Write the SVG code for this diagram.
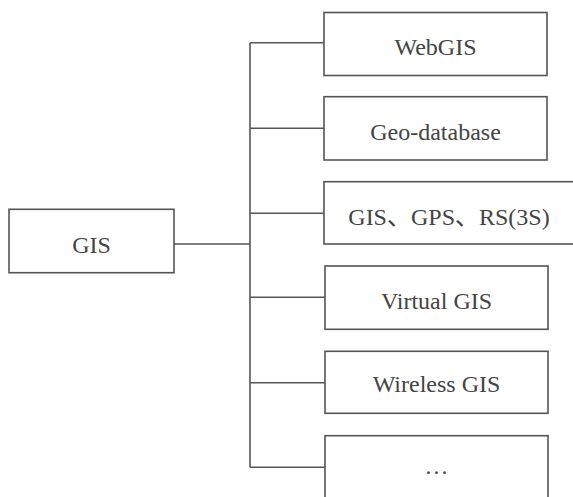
<svg xmlns="http://www.w3.org/2000/svg" width="573" height="497" viewBox="0 0 573 497">
<style>
.box{fill:#fff;stroke:#555;stroke-width:1.6}
.lbl{font-family:"Liberation Serif","Noto Sans CJK SC",serif;font-size:24px;fill:#444;text-anchor:middle}
.conn{fill:none;stroke:#555;stroke-width:1.6}
</style>
<rect width="573" height="497" fill="#fff"/>
<g id="connectors">
<path class="conn" d="M174,244 H250 M250,42.7 V467.3 M250,42.7 H324 M250,128.3 H324 M250,213.3 H324 M250,297.3 H325 M250,382.7 H325 M250,467.3 H325"/>
</g>
<g id="gis"><rect class="box" x="9" y="209.3" width="165" height="63.4"/><text class="lbl" x="91.5" y="252.5">GIS</text></g>
<g id="webgis"><rect class="box" x="324" y="12.5" width="223" height="63"/><text class="lbl" x="435.5" y="55">WebGIS</text></g>
<g id="geodatabase"><rect class="box" x="324" y="96.7" width="223" height="63.3"/><text class="lbl" x="435.5" y="139.5">Geo-database</text></g>
<g id="3s"><rect class="box" x="324" y="181.7" width="262" height="62.3"/><text class="lbl" x="449" y="224.5">GIS、GPS、RS(3S)</text></g>
<g id="virtualgis"><rect class="box" x="325" y="266" width="223" height="63.3"/><text class="lbl" x="436.5" y="308.5">Virtual GIS</text></g>
<g id="wirelessgis"><rect class="box" x="325" y="351.3" width="223" height="62"/><text class="lbl" x="436.5" y="392">Wireless GIS</text></g>
<g id="more"><rect class="box" x="325" y="435.7" width="223" height="80"/><text class="lbl" x="436.5" y="474">…</text></g>
</svg>
